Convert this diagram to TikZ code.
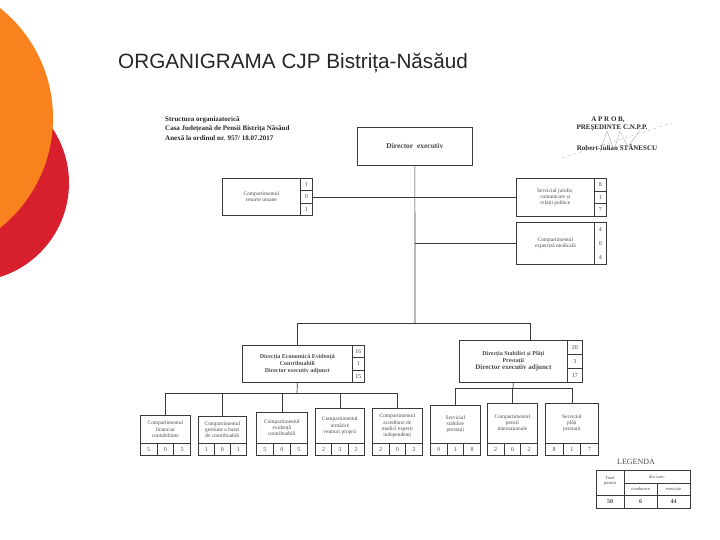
\documentclass[tikz,border=0pt]{standalone}
\usepackage{fontspec}
\setmainfont{Liberation Serif}
\newfontfamily\titlefont{Liberation Sans}
\definecolor{orng}{HTML}{F7821E}
\definecolor{rd}{HTML}{D71F2E}
\definecolor{ink}{HTML}{3A3A3A}
\definecolor{txt}{HTML}{4A4A4A}
\definecolor{ttl}{HTML}{262626}
\begin{document}
\begin{tikzpicture}[x=1pt,y=-1pt,
  ln/.style={draw=ink,line width=0.7pt},
  box/.style={ln,anchor=north west,align=center,inner sep=1pt,text=txt,font=\fontsize{5.4}{6.2}\selectfont},
  sbox/.style={box,font=\bfseries\fontsize{6}{7.2}\selectfont},
  cell/.style={ln,anchor=north west,inner sep=0pt,text=txt,font=\fontsize{6}{7}\selectfont},
  ncell/.style={cell,draw=none},
  hdr/.style={anchor=west,text=ttl,inner sep=0pt,font=\bfseries\fontsize{7}{8}\selectfont},
  lg/.style={text=txt,inner sep=0pt,font=\fontsize{4.5}{5}\selectfont,align=center}]
\useasboundingbox (0,0) rectangle (720,540);
% decorative circles
\fill[rd] (-29.5,183) circle (98.5);
\fill[orng] (-87.6,118) circle (140.6);
% title
\node[anchor=base west,inner sep=0pt,text=ttl,font=\titlefont\fontsize{20.7}{24}\selectfont] (title) at (118,69) {ORGANIGRAMA CJP Bistrița-Năsăud};
% header texts
\node[hdr] (h1) at (165,120) {Structura organizatorică};
\node[hdr] (h2) at (165,129) {Casa Județeană de Pensii Bistrița Năsăud};
\node[hdr] (h3) at (165,138) {Anexă la ordinul nr. 957/ 18.07.2017};
\node[hdr,anchor=center] (a1) at (608,120) {A P R O B,};
\node[hdr,anchor=center] (a2) at (612,128) {PREȘEDINTE C.N.P.P.};
\node[hdr,anchor=center] (a3) at (617,148) {Robert-Iulian STĂNESCU};
\draw[gray!55,line width=0.4pt,dashed] (562,158) -- (672,123);
\draw[gray!65,line width=0.4pt] (600,152) -- (607,131) -- (614,150) -- (620,131) -- (628,147) -- (640,130);
% director
\node[box,minimum width=115,minimum height=38,font=\bfseries\fontsize{7.5}{9}\selectfont] (dir) at (357,127) {Director\ \ executiv};
% resurse umane
\node[box,minimum width=78,minimum height=37] (ru) at (222,178) {Compartimentul\\resurse umane};
\node[cell,minimum width=12,minimum height=12.33] (ru1) at (300,178) {1};
\node[cell,minimum width=12,minimum height=12.33] (ru2) at (300,190.33) {0};
\node[cell,minimum width=12,minimum height=12.33] (ru3) at (300,202.67) {1};
% juridic
\node[box,minimum width=78,minimum height=38] (jur) at (516,178) {Serviciul juridic,\\comunicare și\\relații publice};
\node[cell,minimum width=12,minimum height=12.67] (jur1) at (594,178) {8};
\node[cell,minimum width=12,minimum height=12.67] (jur2) at (594,190.67) {1};
\node[cell,minimum width=12,minimum height=12.67] (jur3) at (594,203.33) {7};
% expertiza
\node[box,minimum width=78,minimum height=42] (exp) at (516,222) {Compartimentul\\expertiză medicală};
\node[ncell,minimum width=12,minimum height=14] (exp1) at (594,222) {4};
\node[ncell,minimum width=12,minimum height=14] (exp2) at (594,236) {0};
\node[ncell,minimum width=12,minimum height=14] (exp3) at (594,250) {4};
\draw[ln] (exp.north east) -- (exp1.north east) -- (exp3.south east) -- (exp.south east);
% trunk
\coordinate (t0) at (415,323);
\coordinate (tj) at (415,197);
\coordinate (te) at (415,243);
\draw[ln] (dir.south) -- (t0);
\draw[ln] (ru2.east |- tj) -- (jur.west |- tj);
\draw[ln] (te) -- (exp.west |- te);
% sub-directions
\node[sbox,minimum width=110,minimum height=37] (ls) at (242,345) {Direcția Economică Evidență\\Contribuabili\\Director executiv adjunct};
\node[cell,minimum width=12,minimum height=12.33] (ls1) at (352,345) {16};
\node[cell,minimum width=12,minimum height=12.33] (ls2) at (352,357.33) {1};
\node[cell,minimum width=12,minimum height=12.33] (ls3) at (352,369.67) {15};
\node[sbox,minimum width=108,minimum height=42] (rs) at (459,340) {Direcția Stabiliri și Plăți\\Prestații\\{\fontsize{7}{8}\selectfont Director executiv adjunct}};
\node[cell,minimum width=15,minimum height=14] (rs1) at (567,340) {20};
\node[cell,minimum width=15,minimum height=14] (rs2) at (567,354) {3};
\node[cell,minimum width=15,minimum height=14] (rs3) at (567,368) {17};
\coordinate (rj) at (530,340);
\draw[ln] (ls.north) -- (ls.north |- t0) -- (530,323) -- (rj);
% bottom boxes
\foreach \n/\x/\y/\w/\t/\a/\b/\c in {
  b1/140/415/50/{Compartimentul\\financiar\\contabilitate}/5/0/5,
  b2/198/416/48/{Compartimentul\\gestiune a bazei\\de contribuabili}/1/0/1,
  b3/256/412/51/{Compartimentul\\evidență\\contribuabili}/5/0/5,
  b4/315/408/49/{Compartimentul\\urmărire\\venituri proprii}/2/3/2,
  b5/372/408/50/{Compartimentul\\acreditare de\\medici experți\\independenți}/2/0/2,
  b6/430/405/50/{Serviciul\\stabilire\\prestații}/9/1/8,
  b7/487/403/50/{Compartimentul\\pensii\\internaționale}/2/0/2,
  b8/545/403/53/{Serviciul\\plăți\\prestații}/8/1/7}{
  \pgfmathsetmacro\hh{443-\y}
  \pgfmathsetmacro\cw{\w/3}
  \node[box,minimum width=\w,minimum height=\hh] (\n) at (\x,\y) {\t};
  \node[cell,minimum width=\cw,minimum height=12] (\n a) at (\x,443) {\a};
  \node[cell,minimum width=\cw,minimum height=12] (\n b) at (\x+\cw,443) {\b};
  \node[cell,minimum width=\cw,minimum height=12] (\n c) at (\x+2*\cw,443) {\c};
}
% left group connectors
\coordinate (lb) at (297,393);
\draw[ln] (ls.south) -- (lb);
\draw[ln] (b1.north) -- (b1.north |- lb) -- (b5.north |- lb) -- (b5.north);
\foreach \n in {b2,b3,b4}{\draw[ln] (\n.north |- lb) -- (\n.north);}
% right group connectors
\coordinate (rb) at (513,388);
\draw[ln] (rs.south) -- (rb);
\draw[ln] (b6.north) -- (b6.north |- rb) -- (b8.north |- rb) -- (b8.north);
\draw[ln] (b7.north |- rb) -- (b7.north);
% legend
\node[text=txt,inner sep=0pt,font=\fontsize{8}{9}\selectfont] (leg) at (636,462) {LEGENDA};
\draw[ln,line width=0.5pt] (596,470) rectangle (690,508);
\draw[ln,line width=0.5pt] (624,470) -- (624,508) (624,483) -- (690,483) (596,495) -- (690,495) (657,483) -- (657,508);
\node[lg] (l1) at (610,481) {Total\\posturi};
\node[lg] (l2) at (657,477) {din care:};
\node[lg] (l3) at (640.5,489) {conducere};
\node[lg] (l4) at (673.5,489) {execuție};
\node[lg,font=\bfseries\fontsize{6}{7}\selectfont] (l5) at (610,502) {50};
\node[lg,font=\bfseries\fontsize{6}{7}\selectfont] (l6) at (640.5,502) {6};
\node[lg,font=\bfseries\fontsize{6}{7}\selectfont] (l7) at (673.5,502) {44};
\end{tikzpicture}
\end{document}
